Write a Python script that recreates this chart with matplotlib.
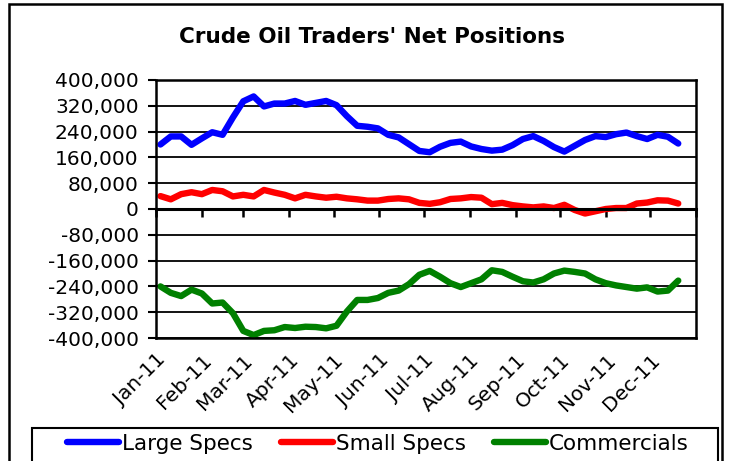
import matplotlib
matplotlib.use("Agg")
import matplotlib.pyplot as plt
import matplotlib.dates as mdates
from matplotlib.patches import Rectangle
from matplotlib.ticker import FuncFormatter, MultipleLocator
import pandas as pd

plt.rcParams['font.family'] = ['DejaVu Sans']

# Weekly report dates (Tuesdays), Jan-2011 .. Dec-2011
dates = pd.date_range('2011-01-04', periods=51, freq='7D')

large_specs = [200, 225, 225, 199, 219, 238, 230, 284, 334, 349,
               318, 327, 327, 335, 323, 329, 335, 322, 288, 258,
               255, 250, 230, 222, 201, 180, 176, 193, 205, 209,
               194, 186, 181, 184, 198, 217, 226, 211, 192, 178,
               196, 214, 226, 223, 232, 237, 226, 217, 230, 224, 203]
small_specs = [40, 30, 46, 52, 46, 59, 55, 39, 44, 39,
               59, 51, 44, 33, 44, 39, 35, 38, 33, 30,
               26, 26, 31, 33, 30, 19, 16, 21, 31, 33,
               37, 35, 15, 19, 12, 8, 5, 8, 3, 13,
               -3, -14, -7, 0, 3, 3, 17, 20, 27, 26, 17]
commercials = [-240, -260, -270, -250, -262, -293, -290, -323, -378, -391,
               -378, -376, -366, -369, -365, -366, -370, -362, -318, -282,
               -282, -276, -260, -253, -233, -204, -192, -210, -230, -242,
               -230, -218, -190, -195, -210, -224, -228, -218, -200, -191,
               -195, -200, -218, -230, -237, -242, -247, -243, -256, -253, -222]
series_names = ['Large Specs', 'Small Specs', 'Commercials']
series_colors = ['#0000FF', '#FF0000', '#008000']
title = "Crude Oil Traders' Net Positions"

W, H = 730, 461
fig = plt.figure(figsize=(W / 100, H / 100), dpi=100)
fig.patch.set_facecolor('white')

# outer border
fig.add_artist(Rectangle((9 / W, -0.05), (722 - 9) / W, 1 - 4 / H + 0.05,
                         transform=fig.transFigure, fill=False,
                         edgecolor='black', linewidth=1.8))

ax = fig.add_axes([156 / W, 1 - 338 / H, (696 - 156) / W, (338 - 80) / H])

for vals, name, col in zip([large_specs, small_specs, commercials],
                           series_names, series_colors):
    ax.plot(dates, [v * 1000 for v in vals], color=col, lw=4.6, label=name,
            solid_joinstyle='round', solid_capstyle='round', zorder=3)

ax.set_ylim(-400000, 400000)
ax.yaxis.set_major_locator(MultipleLocator(80000))
ax.yaxis.set_major_formatter(FuncFormatter(lambda v, p: f"{v:,.0f}"))
ax.set_xlim(pd.Timestamp('2011-01-01'), pd.Timestamp('2012-01-01'))
ax.xaxis.set_major_locator(mdates.MonthLocator())
ax.xaxis.set_major_formatter(mdates.DateFormatter('%b-%y'))

ax.grid(axis='y', color='black', lw=1.3, zorder=1)
ax.axhline(400000, color='black', lw=1.8, zorder=4, clip_on=False)
for s in ax.spines.values():
    s.set_linewidth(1.8)
    s.set_zorder(4)
# top spine serves as the category axis line through zero
ax.spines['top'].set_position(('data', 0))
ax.spines['top'].set_linewidth(2.2)

ax.tick_params(axis='y', direction='out', length=5.5, width=1.5,
               labelsize=14.5, pad=7)
ax.tick_params(axis='x', bottom=False, top=True, direction='in',
               length=6, width=1.8, labeltop=False, labelbottom=True,
               labelsize=14.5, pad=9)
for lbl in ax.get_xticklabels():
    lbl.set_rotation(45)
    lbl.set_ha('right')
    lbl.set_rotation_mode('anchor')
# hide last (Jan-12) label
ax.get_xticklabels()[-1].set_visible(False)

fig.text(372 / W, 1 - 37 / H, title, ha='center', va='center',
         fontsize=15.5, fontweight='bold')

# legend box
fig.add_artist(Rectangle((32 / W, -0.05), (718 - 32) / W, 1 - 428 / H + 0.05,
                         transform=fig.transFigure, fill=False,
                         edgecolor='black', linewidth=1.5))
fig.legend(loc='center', bbox_to_anchor=(378 / W, 1 - 444 / H), ncol=3,
           frameon=False, fontsize=15.5, handlelength=2.4, handletextpad=0.15,
           columnspacing=1.3, borderaxespad=0, borderpad=0)

fig.savefig('out.png', dpi=100, facecolor='white')
